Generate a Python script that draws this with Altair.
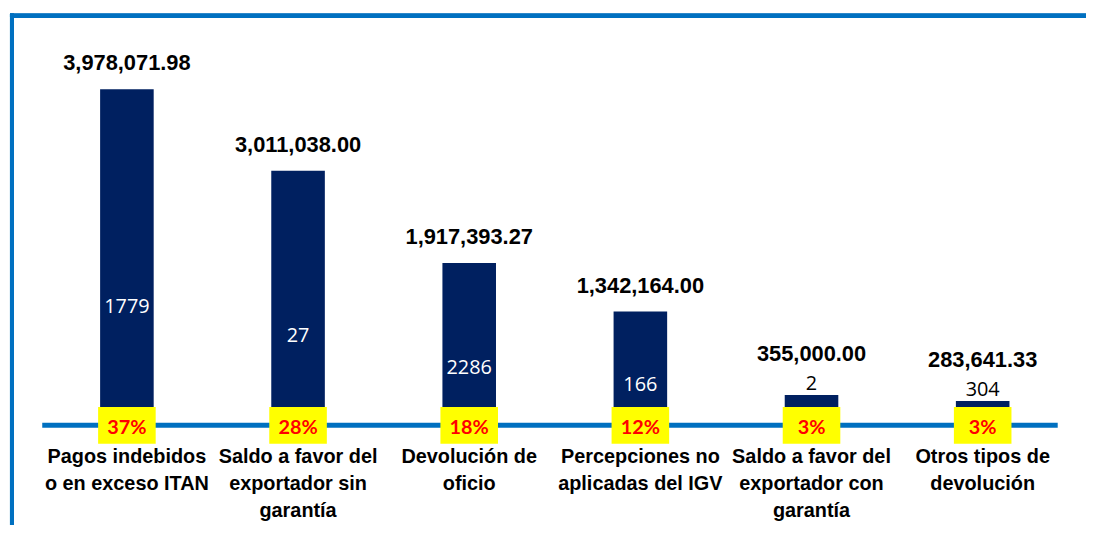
import altair as alt
import pandas as pd

categories = [
    "Pagos indebidos\no en exceso ITAN",
    "Saldo a favor del\nexportador sin\ngarantía",
    "Devolución de\noficio",
    "Percepciones no\naplicadas del IGV",
    "Saldo a favor del\nexportador con\ngarantía",
    "Otros tipos de\ndevolución",
]
amounts = [3978071.98, 3011038.00, 1917393.27, 1342164.00, 355000.00, 283641.33]
counts = [1779, 27, 2286, 166, 2, 304]
percents = ["37%", "28%", "18%", "12%", "3%", "3%"]

df = pd.DataFrame({"cat": categories, "amount": amounts, "count": counts, "pct": percents})

NAVY = "#002060"
BLUE = "#0070C0"
NARROW = "Liberation Sans Narrow, Arial Narrow, Liberation Sans, Arial, sans-serif"

x = alt.X(
    "cat:N",
    sort=categories,
    title=None,
    scale=alt.Scale(paddingInner=0.687, paddingOuter=0.31, align=0.55),
    axis=alt.Axis(
        labelAngle=0,
        ticks=False,
        tickSize=0,
        domainColor=BLUE,
        domainWidth=5,
        labelFont=NARROW,
        labelFontSize=20,
        labelFontWeight="bold",
        labelColor="#000000",
        labelLineHeight=27,
        labelPadding=22,
        labelLimit=0,
        labelExpr="split(datum.label, '\\n')",
    ),
)
y_scale = alt.Scale(domain=[0, 4660000])
y = alt.Y("amount:Q", scale=y_scale, axis=None)

base = alt.Chart(df)

bars = base.mark_bar(color=NAVY).encode(x=x, y=y)

big = alt.datum.amount > 1000000
small = alt.datum.amount <= 1000000

val_big = base.transform_filter(big).mark_text(
    font=NARROW, fontSize=22, fontWeight="bold", color="#000000", baseline="middle", dy=-26
).encode(x=x, y=y, text=alt.Text("amount:Q", format=",.2f"))
val_small = base.transform_filter(small).mark_text(
    font=NARROW, fontSize=22, fontWeight="bold", color="#000000", baseline="middle", dy=-41
).encode(x=x, y=y, text=alt.Text("amount:Q", format=",.2f"))

cnt_big = base.transform_filter(big).transform_calculate(
    cpos="datum.amount * 0.35"
).mark_text(
    font="Open Sans", fontSize=20, color="#FFFFFF", baseline="middle"
).encode(x=x, y=alt.Y("cpos:Q", scale=y_scale, axis=None), text="count:Q")
cnt_small = base.transform_filter(small).mark_text(
    font="Open Sans", fontSize=20, color="#000000", baseline="middle", dy=-11
).encode(x=x, y=y, text="count:Q")

pct_box = base.mark_bar(color="#FFFF00", width=58).encode(
    x=x, y=alt.value(378), y2=alt.value(415)
)
pct_text = base.mark_text(
    font="Lato", fontSize=20, fontWeight="bold", color="#FF0000", baseline="middle"
).encode(x=x, y=alt.value(399), text="pct:N")

frame_top = alt.Chart(df).mark_rule(color=BLUE, strokeWidth=4).encode(
    x=alt.value(-32), x2=alt.value(1060), y=alt.value(-16)
)
frame_left = alt.Chart(df).mark_rule(color=BLUE, strokeWidth=4).encode(
    x=alt.value(-30), y=alt.value(-18), y2=alt.value(500)
)

chart = alt.layer(
    frame_top, frame_left, bars, val_big, val_small, cnt_big, cnt_small, pct_box, pct_text
).properties(
    width=1023,
    height=396,
    background="#FFFFFF",
    autosize=alt.AutoSizeParams(type="none"),
    padding={"left": 34, "top": 22, "right": 29, "bottom": 99},
).configure_view(stroke="transparent", strokeWidth=0)

chart.save("out.html", embed_options={"renderer": "svg", "actions": False})
